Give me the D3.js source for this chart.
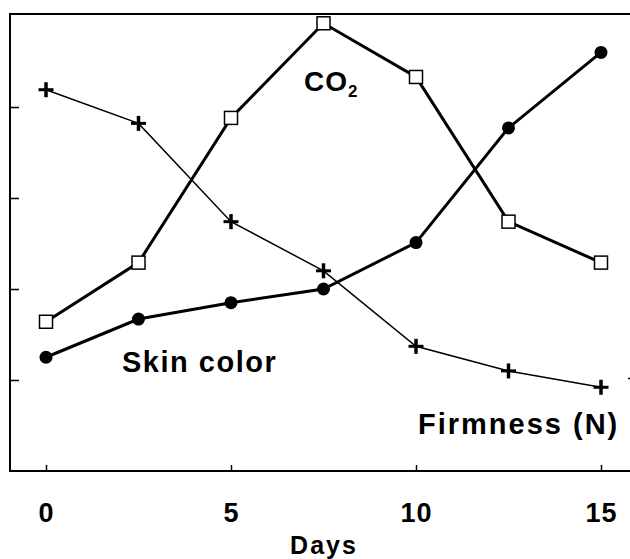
<!DOCTYPE html>
<html>
<head>
<meta charset="utf-8">
<script src="https://cdn.jsdelivr.net/npm/d3@7"></script>
<style>
html,body{margin:0;padding:0;background:#fff;}
svg{display:block;}
text{font-family:"Liberation Sans",Arial,Helvetica,sans-serif;font-weight:bold;fill:#000;}
</style>
</head>
<body>
<svg id="chart" width="630" height="559"></svg>
<script>
// ---- data (relative units, y axis unlabeled) ----
const days = [0, 2.5, 5, 7.5, 10, 12.5, 15];
const firmness = [4.19, 3.82, 2.74, 2.20, 1.37, 1.10, 0.92];
const co2 = [1.64, 2.29, 3.88, 4.92, 4.33, 2.74, 2.29];
const skinColor = [1.25, 1.67, 1.85, 2.00, 2.51, 3.77, 4.60];
const xTicks = [0, 5, 10, 15];
const yTicks = [1, 2, 3, 4];
const rightTicks = [1];

const svg = d3.select("#chart");
const frame = {left: 10, right: 636, top: 14, bottom: 471};

const x = d3.scaleLinear().domain([0, 15]).range([46, 601]);
const y = d3.scaleLinear().domain([0, 5]).range([471, 16]);

// frame
svg.append("rect")
  .attr("x", frame.left).attr("y", frame.top)
  .attr("width", frame.right - frame.left).attr("height", frame.bottom - frame.top)
  .attr("fill", "none").attr("stroke", "#000").attr("stroke-width", 2);

// bottom axis ticks (inward)
const xAxis = d3.axisBottom(x).tickValues(xTicks).tickSize(-6).tickPadding(36)
  .tickFormat(d3.format("d"));
const gx = svg.append("g").attr("transform", `translate(0,${frame.bottom})`).call(xAxis);
gx.select(".domain").remove();
gx.selectAll(".tick line").attr("stroke", "#000").attr("stroke-width", 1.5);
gx.selectAll(".tick text")
  .attr("font-size", 27).attr("letter-spacing", 1)
  .attr("font-family", "Liberation Sans, Arial, sans-serif").attr("font-weight", "bold")
  .attr("fill", "#000").attr("dy", 0).attr("y", 51);

// left axis ticks (inward)
const yAxis = d3.axisLeft(y).tickValues(yTicks).tickSize(-9).tickFormat("");
const gy = svg.append("g").attr("transform", `translate(${frame.left},0)`).call(yAxis);
gy.select(".domain").remove();
gy.selectAll(".tick line").attr("stroke", "#000").attr("stroke-width", 1.5);

// right axis ticks (inward)
const yAxisR = d3.axisRight(y).tickValues(rightTicks).tickSize(-8).tickFormat("");
const gr = svg.append("g").attr("transform", `translate(${frame.right},-2)`).call(yAxisR);
gr.select(".domain").remove();
gr.selectAll(".tick line").attr("stroke", "#000").attr("stroke-width", 1.5);

// axis title
svg.append("text").attr("x", 324).attr("y", 554).attr("text-anchor", "middle")
  .attr("font-size", 25).attr("letter-spacing", 2).text("Days");

const line = d3.line().x(d => x(d[0])).y(d => y(d[1]));
const zip = vals => days.map((d, i) => [d, vals[i]]);

// Firmness line (thin) with plus markers
svg.append("path").datum(zip(firmness)).attr("d", line)
  .attr("fill", "none").attr("stroke", "#000").attr("stroke-width", 1.5);
// CO2 line
svg.append("path").datum(zip(co2)).attr("d", line)
  .attr("fill", "none").attr("stroke", "#000").attr("stroke-width", 3);
// Skin colour line
svg.append("path").datum(zip(skinColor)).attr("d", line)
  .attr("fill", "none").attr("stroke", "#000").attr("stroke-width", 3);

// markers
const plus = d3.symbol().type(d3.symbolCross);
svg.selectAll(".plus").data(zip(firmness)).enter().append("g")
  .attr("transform", d => `translate(${x(d[0])},${y(d[1])})`)
  .each(function() {
    const g = d3.select(this);
    g.append("line").attr("x1", -7.5).attr("x2", 7.5).attr("y1", 0).attr("y2", 0)
      .attr("stroke", "#000").attr("stroke-width", 3);
    g.append("line").attr("x1", 0).attr("x2", 0).attr("y1", -7.5).attr("y2", 7.5)
      .attr("stroke", "#000").attr("stroke-width", 3.5);
  });

svg.selectAll(".sq").data(zip(co2)).enter().append("rect")
  .attr("x", d => x(d[0]) - 6.5).attr("y", d => y(d[1]) - 6.5)
  .attr("width", 13).attr("height", 13)
  .attr("fill", "#fff").attr("stroke", "#000").attr("stroke-width", 1.5);

svg.selectAll(".dot").data(zip(skinColor)).enter().append("circle")
  .attr("cx", d => x(d[0])).attr("cy", d => y(d[1])).attr("r", 6.5)
  .attr("fill", "#000");

// series labels
const co2Label = svg.append("text").attr("x", 304).attr("y", 91)
  .attr("font-size", 28).attr("letter-spacing", 1);
co2Label.append("tspan").text("CO");
co2Label.append("tspan").attr("font-size", 17).attr("dy", 6).text("2");

svg.append("text").attr("x", 122).attr("y", 372)
  .attr("font-size", 29).attr("letter-spacing", 1.5).text("Skin color");

svg.append("text").attr("x", 418).attr("y", 434)
  .attr("font-size", 29).attr("letter-spacing", 2).text("Firmness (N)");
</script>
</body>
</html>
